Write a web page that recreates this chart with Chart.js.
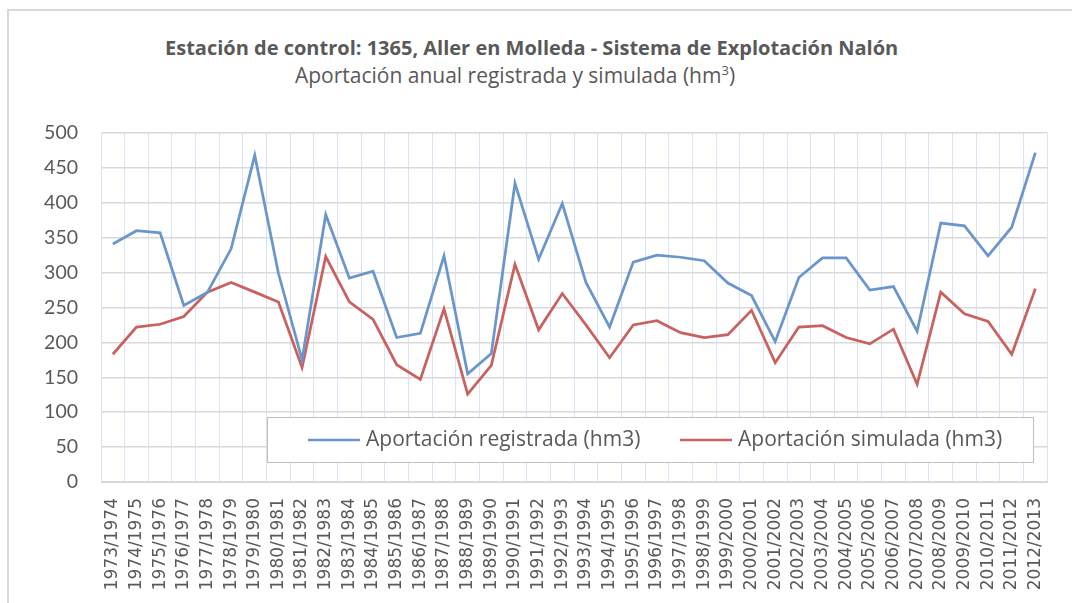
<!DOCTYPE html>
<html>
<head>
<meta charset="utf-8">
<script src="https://cdn.jsdelivr.net/npm/chart.js@4"></script>
<style>
  html, body { margin: 0; padding: 0; background: #fff; }
  #wrap { position: relative; width: 1072px; height: 603px; overflow: hidden; }
  #frame { position: absolute; left: 7px; top: 9px; width: 1200px; height: 800px;
           border-top: 2px solid #d9d9d9; border-left: 2px solid #d9d9d9; }
  .ttl { position: absolute; left: 165px; width: 700px; text-align: center;
         color: #595959; font-family: "Open Sans", sans-serif; white-space: nowrap; }
  #t1 { top: 34px; font-size: 20px; font-weight: bold; }
  #t2 { top: 61px; font-size: 21px; }
  #t2 sup { font-size: 13px; line-height: 0; }
  canvas { position: absolute; left: 0; top: 0; }
</style>
</head>
<body>
<div id="wrap">
  <div id="frame"></div>
  <div class="ttl" id="t1">Estación de control: 1365, Aller en Molleda - Sistema de Explotación Nalón</div>
  <div class="ttl" id="t2">Aportación anual registrada y simulada (hm<sup>3</sup>)</div>
  <canvas id="chart" width="1072" height="603"></canvas>
</div>
<script>
// hydrological years
const years = [
  '1973/1974','1974/1975','1975/1976','1976/1977','1977/1978','1978/1979','1979/1980','1980/1981',
  '1981/1982','1982/1983','1983/1984','1984/1985','1985/1986','1986/1987','1987/1988','1988/1989',
  '1989/1990','1990/1991','1991/1992','1992/1993','1993/1994','1994/1995','1995/1996','1996/1997',
  '1997/1998','1998/1999','1999/2000','2000/2001','2001/2002','2002/2003','2003/2004','2004/2005',
  '2005/2006','2006/2007','2007/2008','2008/2009','2009/2010','2010/2011','2011/2012','2012/2013'
];

// hm3
const registrada = [
  341, 360, 357, 253, 272, 334, 468, 299, 175, 383, 292, 302, 207, 213, 324, 155,
  184, 428, 319, 399, 286, 222, 315, 325, 322, 317, 285, 267, 201, 293, 321, 321,
  275, 280, 216, 371, 367, 324, 365, 472
];
const simulada = [
  183, 222, 226, 237, 272, 286, 272, 258, 164, 323, 258, 233, 168, 147, 248, 126,
  167, 312, 218, 270, 225, 178, 225, 231, 214, 207, 211, 246, 171, 222, 224, 207,
  198, 219, 140, 272, 241, 230, 183, 277
];

const yTicks = [0, 50, 100, 150, 200, 250, 300, 350, 400, 450, 500];

const seriesNames = ['Aportación registrada (hm3)', 'Aportación simulada (hm3)'];
const seriesColors = ['#6a96cc', '#c9615e'];

const textGrey = '#595959';

// legend drawn inside the plot, in a white box
const legendBox = {
  id: 'legendBox',
  afterDatasetsDraw(chart) {
    const ctx = chart.ctx;
    ctx.save();
    ctx.fillStyle = '#ffffff';
    ctx.fillRect(267.5, 417.5, 766, 45);
    ctx.strokeStyle = '#bfbfbf';
    ctx.lineWidth = 1;
    ctx.strokeRect(267.5, 417.5, 766, 45);
    const starts = [308, 680];
    chart.data.datasets.forEach((ds, i) => {
      const x = starts[i];
      ctx.strokeStyle = ds.borderColor;
      ctx.lineWidth = 2.5;
      ctx.beginPath();
      ctx.moveTo(x, 440);
      ctx.lineTo(x + 52, 440);
      ctx.stroke();
      ctx.fillStyle = textGrey;
      ctx.font = '21px "Open Sans", sans-serif';
      ctx.textBaseline = 'middle';
      ctx.fillText(ds.label, x + 58, 440);
    });
    ctx.restore();
  }
};

new Chart(document.getElementById('chart'), {
  type: 'line',
  data: {
    labels: years,
    datasets: [
      { label: seriesNames[0], data: registrada, borderColor: seriesColors[0], backgroundColor: seriesColors[0] },
      { label: seriesNames[1], data: simulada, borderColor: seriesColors[1], backgroundColor: seriesColors[1] }
    ]
  },
  options: {
    responsive: false,
    animation: false,
    layout: { padding: { left: 0, top: 133, right: 16, bottom: 0 } },
    elements: {
      point: { radius: 0, hoverRadius: 0 },
      line: { tension: 0, borderWidth: 2.75 }
    },
    scales: {
      x: {
        offset: true,
        grid: { offset: true, color: '#dae3f3', lineWidth: 1, drawTicks: false },
        border: { color: '#d0d7e3' },
        ticks: {
          color: textGrey,
          font: { family: 'DejaVu Sans', size: 17 },
          minRotation: 90, maxRotation: 90,
          autoSkip: false,
          padding: 16
        },
        afterFit(scale) { scale.height = 121; }
      },
      y: {
        min: 0, max: 500,
        afterBuildTicks(scale) { scale.ticks = yTicks.map(v => ({ value: v })); },
        grid: { color: '#d9d9d9', lineWidth: 1.5, drawTicks: false },
        border: { color: '#dae3f3' },
        ticks: {
          color: textGrey,
          font: { family: 'Lato', size: 19.5 },
          padding: 23
        },
        afterFit(scale) { scale.width = 101; }
      }
    },
    plugins: {
      legend: { display: false },
      title: { display: false },
      tooltip: { enabled: false }
    }
  },
  plugins: [legendBox]
});
</script>
</body>
</html>
